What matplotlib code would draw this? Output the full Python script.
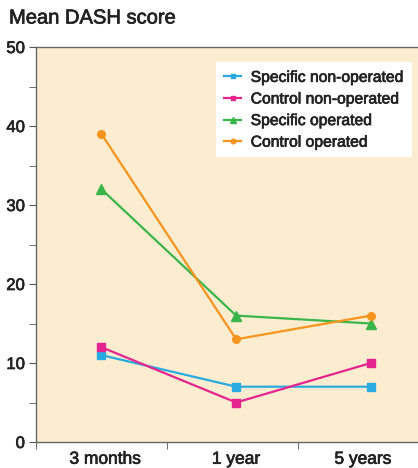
import matplotlib.pyplot as plt
import matplotlib.patheffects as pe
from matplotlib.ticker import MultipleLocator, FixedLocator

categories = ["3 months", "1 year", "5 years"]
spec_nonop = [11, 7, 7]
ctrl_nonop = [12, 5, 10]
spec_op = [32, 16, 15]
ctrl_op = [39, 13, 16]

plt.rcParams['font.family'] = ['Liberation Sans', 'DejaVu Sans']
fig = plt.figure(figsize=(4.18, 4.68), dpi=100)
ax = fig.add_axes([36/418, 1-442/468, (418-36)/418, (442-47)/468])
ax.set_facecolor('#FDEDD0')

x = [0.0, 1.03, 2.06]
ax.plot(x, spec_nonop, color='#29ABE2', marker='s', ms=5.5, lw=1.6, label='Specific non-operated')
ax.plot(x, ctrl_nonop, color='#E6248F', marker='s', ms=6, lw=1.6, label='Control non-operated')
ax.plot(x, spec_op, color='#3AB54A', marker='^', ms=7, lw=1.6, label='Specific operated')
ax.plot(x, ctrl_op, color='#F7941D', marker='o', ms=5.5, lw=1.6, label='Control operated')

ax.set_xlim(-0.5, 2.42)
ax.set_ylim(0, 50)
ax.yaxis.set_major_locator(MultipleLocator(10))
ax.yaxis.set_minor_locator(MultipleLocator(5))
ax.set_xticks([0.03, 1.03, 2.0])
ax.set_xticklabels(categories, fontsize=12.5, color='#222222')
ax.xaxis.set_minor_locator(FixedLocator([-0.5, 0.5, 1.5]))
ax.tick_params(axis='x', which='major', length=0, pad=7)
ax.tick_params(axis='x', which='minor', length=5, color='#555555')
ax.tick_params(axis='y', which='both', length=5, color='#555555', labelsize=12, labelcolor='#222222', pad=3)
for s in ['left', 'bottom', 'top']:
    ax.spines[s].set_color('#666666')
    ax.spines[s].set_linewidth(1.0)
ax.spines['right'].set_visible(False)

leg = ax.legend(loc='upper right', bbox_to_anchor=(0.984, 0.962), fontsize=11.3,
                frameon=True, fancybox=False, framealpha=1, edgecolor='white',
                handlelength=1.1, markerscale=0.6, borderpad=0.5, labelspacing=0.42,
                handletextpad=0.6, borderaxespad=0)
leg.get_frame().set_linewidth(0)

stroke = [pe.withStroke(linewidth=0.5, foreground='#222222')]
for t in leg.get_texts():
    t.set_color('#222222')
    t.set_path_effects(stroke)
for t in ax.get_xticklabels() + ax.get_yticklabels():
    t.set_path_effects(stroke)

fig.text(9/418, 1-18/468, "Mean DASH score", fontsize=14.5, va='center', ha='left',
         color='#222222', path_effects=stroke)
fig.savefig('out.png', dpi=100)
